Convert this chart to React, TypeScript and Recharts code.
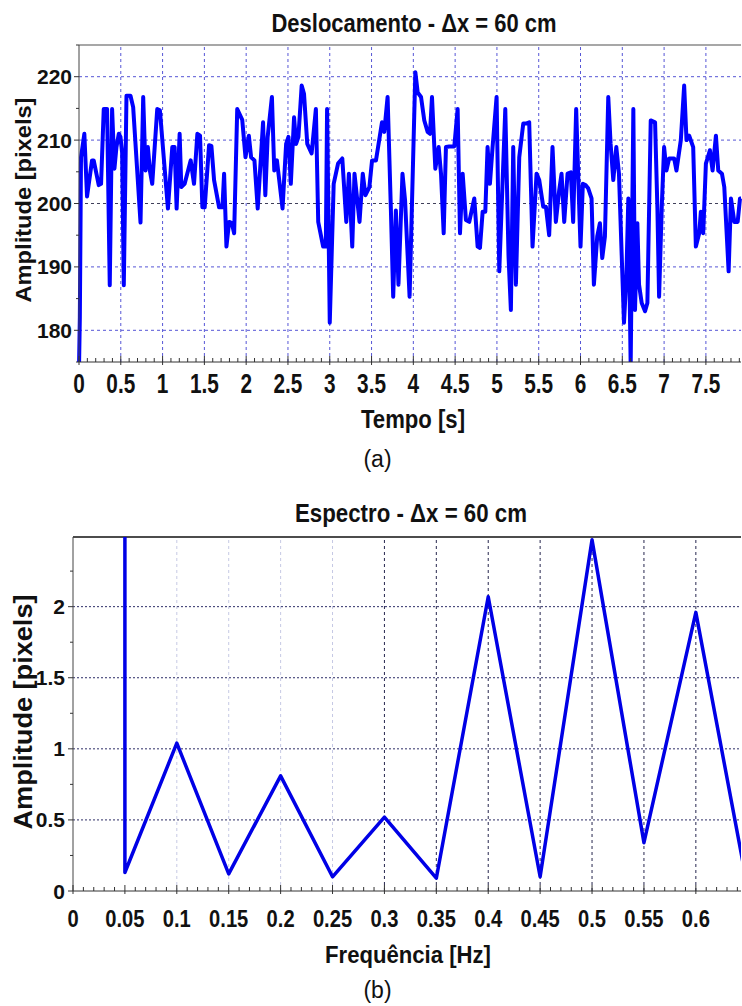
import React from 'react';
import { LineChart, Line, XAxis, YAxis, ReferenceLine } from 'recharts';

// (a) Deslocamento - tempo [s] / amplitude [pixels]
const tempoS = [
  0.0, 0.01, 0.024, 0.064, 0.096, 0.156, 0.176, 0.236, 0.264, 0.296, 0.336, 0.368, 0.396, 0.424, 0.448, 0.476,
  0.496, 0.516, 0.536, 0.568, 0.616, 0.648, 0.736, 0.768, 0.796, 0.824, 0.848, 0.876, 0.936, 0.968, 1.064, 1.116,
  1.144, 1.168, 1.204, 1.224, 1.264, 1.336, 1.376, 1.416, 1.448, 1.476, 1.504, 1.556, 1.584, 1.616, 1.676, 1.716,
  1.736, 1.764, 1.796, 1.828, 1.856, 1.893, 1.953, 1.992, 2.032, 2.059, 2.099, 2.138, 2.202, 2.229, 2.257, 2.308,
  2.336, 2.368, 2.435, 2.478, 2.506, 2.534, 2.573, 2.597, 2.625, 2.664, 2.692, 2.731, 2.783, 2.834, 2.862, 2.921,
  2.953, 2.968, 3.0, 3.047, 3.099, 3.15, 3.198, 3.229, 3.269, 3.296, 3.356, 3.395, 3.427, 3.474, 3.506, 3.553,
  3.625, 3.652, 3.692, 3.731, 3.759, 3.791, 3.822, 3.87, 3.901, 3.955, 4.024, 4.052, 4.092, 4.131, 4.171, 4.199,
  4.223, 4.263, 4.303, 4.331, 4.363, 4.39, 4.43, 4.49, 4.53, 4.558, 4.59, 4.629, 4.669, 4.729, 4.769, 4.797,
  4.829, 4.861, 4.888, 4.916, 4.948, 4.996, 5.028, 5.1, 5.139, 5.167, 5.195, 5.227, 5.267, 5.315, 5.347, 5.386,
  5.426, 5.474, 5.506, 5.554, 5.586, 5.625, 5.665, 5.705, 5.745, 5.773, 5.805, 5.845, 5.884, 5.912, 5.948, 5.988,
  6.0, 6.028, 6.06, 6.092, 6.132, 6.16, 6.2, 6.232, 6.26, 6.292, 6.332, 6.36, 6.392, 6.428, 6.46, 6.5,
  6.52, 6.548, 6.572, 6.6, 6.632, 6.652, 6.68, 6.7, 6.732, 6.772, 6.8, 6.84, 6.892, 6.92, 6.94, 6.972,
  7.0, 7.028, 7.06, 7.12, 7.148, 7.2, 7.24, 7.268, 7.3, 7.348, 7.38, 7.42, 7.44, 7.468, 7.5, 7.548,
  7.58, 7.62, 7.648, 7.692, 7.72, 7.772, 7.8, 7.84, 7.88, 7.908, 7.92,
];
const deslocPx = [
  174, 182, 207.3, 211, 201.1, 206.8, 206.8, 202.9, 203.1, 214.9, 214.9, 187.1, 214.9, 205.5, 208.9, 211,
  210.5, 208, 187.1, 217, 217, 215.2, 197, 216.8, 205.2, 208.9, 205.2, 203.1, 214.9, 214.7, 199.2, 208.9,
  208.9, 199.2, 211, 202.6, 203.1, 206.8, 203.1, 211, 210.7, 199.4, 199.4, 209.2, 209.1, 203.7, 199.4, 199.4,
  204.7, 193.2, 197.1, 196.9, 195.3, 214.9, 213.2, 207.3, 210.7, 207.3, 206.8, 199.2, 212.8, 201.3, 210.5, 216.8,
  205.2, 206.8, 199.2, 209.4, 210.5, 203.1, 213.6, 209.4, 210.5, 218.6, 217.3, 209.4, 207.9, 214.9, 197.1, 193.2,
  193.2, 214.9, 181.2, 203.1, 206.3, 207.1, 197.1, 204.7, 193.2, 204.7, 197.1, 204.7, 201.3, 202.6, 206.8, 206.8,
  212.8, 211.3, 216.8, 199.2, 185.3, 198.9, 187.2, 204.7, 200.5, 185.3, 220.7, 217.5, 216.8, 213.1, 211.3, 211,
  216.8, 205.5, 208.9, 204.7, 195.3, 208.9, 209, 209, 214.9, 195.3, 204.7, 197.4, 197.1, 200.8, 193.2, 193,
  198.7, 198.7, 208.9, 203.1, 208.9, 216.8, 189.3, 214.9, 191.6, 183.2, 208.9, 187.2, 207.3, 212.6, 212.6, 212.8,
  193.2, 204.7, 203.7, 199.5, 199.5, 195, 208.9, 197.1, 202.1, 204.7, 197.1, 204.7, 204.9, 197.1, 214.9, 197.9,
  193.2, 203.1, 202.9, 202.4, 200.8, 187.2, 194.8, 196.9, 191.4, 194.8, 216.8, 209.4, 203.7, 208.9, 204.7, 189,
  181.2, 188.2, 200.8, 174.5, 214.9, 183.2, 196.9, 187.2, 184.3, 183, 184.3, 213.1, 212.8, 199.2, 185.3, 199.5,
  208.9, 205.2, 207.1, 207.1, 205.2, 210, 218.6, 210, 210.7, 208.9, 193.2, 195.3, 198.7, 195.3, 206.3, 208.4,
  205.2, 210.7, 205.2, 204.7, 202.6, 189.3, 200.8, 197.1, 197.1, 200.8, 200.8,
];

// (b) Espectro - frequência [Hz] / amplitude [pixels]
const freqHz = [0.05, 0.05, 0.1, 0.15, 0.2, 0.25, 0.3, 0.35, 0.4, 0.45, 0.5, 0.55, 0.6, 0.65];
const espectroPx = [12, 0.13, 1.04, 0.12, 0.81, 0.1, 0.52, 0.09, 2.07, 0.1, 2.47, 0.34, 1.96, 0.02];

const tempoTicks = [0, 0.5, 1, 1.5, 2, 2.5, 3, 3.5, 4, 4.5, 5, 5.5, 6, 6.5, 7, 7.5];
const deslocTicks = [180, 190, 200, 210, 220];
const freqTicks = [0, 0.05, 0.1, 0.15, 0.2, 0.25, 0.3, 0.35, 0.4, 0.45, 0.5, 0.55, 0.6];
const espectroTicks = [0, 0.5, 1, 1.5, 2];
const freqFaint = [0.1, 0.15, 0.2, 0.25];
const freqDark = [0.3, 0.35, 0.4, 0.45, 0.5, 0.55, 0.6];

const serie1 = tempoS.map((t, i) => ({ t, v: deslocPx[i] }));
const serie2 = freqHz.map((f, i) => ({ f, v: espectroPx[i] }));

const steps = (from: number, to: number, step: number) => {
  const out: number[] = [];
  for (let v = from; v <= to + 1e-9; v += step) out.push(+v.toFixed(4));
  return out;
};
const isMajor = (list: number[], v: number) => list.some((m) => Math.abs(m - v) < 1e-6);

const SANS = "'Liberation Sans', Arial, sans-serif";

// tick labels in the source are a condensed bold face, so squeeze them horizontally
const XTick = (p: any) => {
  const { x, y, payload, majors, dy, size, squeeze } = p;
  const major = isMajor(majors, payload.value);
  return (
    <g>
      <line x1={x} x2={x} y1={y + (major ? 3 : 0)} y2={y - (major ? 6 : 4)} stroke="#333" strokeWidth={1} />
      {major && (
        <text
          transform={`translate(${x},${y + dy}) scale(${squeeze},1)`}
          textAnchor="middle"
          fontFamily={SANS}
          fontWeight="bold"
          fontSize={size}
          fill="#111"
        >
          {String(payload.value)}
        </text>
      )}
    </g>
  );
};

const YTick = (p: any) => {
  const { x, y, payload, majors, gap } = p;
  const major = isMajor(majors, payload.value);
  return (
    <g>
      <line x1={x} x2={x - (major ? 5 : 3)} y1={y} y2={y} stroke="#333" strokeWidth={1} />
      {major && (
        <text x={x - gap} y={y} dy="0.36em" textAnchor="end" fontFamily={SANS} fontWeight="bold" fontSize={21} fill="#111">
          {String(payload.value)}
        </text>
      )}
    </g>
  );
};

export default function App() {
  return (
    <div style={{ position: 'absolute', left: 0, top: 0, width: 742, height: 1006, background: '#fff' }}>
      <div style={{ position: 'absolute', left: 0, top: 0 }}>
        <LineChart width={742} height={440} data={serie1} margin={{ top: 45, right: 1, bottom: 38, left: 0 }}>
          <XAxis
            dataKey="t"
            type="number"
            domain={[0, 7.92]}
            ticks={steps(0, 7.9, 0.1)}
            interval={0}
            height={40}
            tickSize={0}
            tickMargin={0}
            axisLine={{ stroke: '#333' }}
            tick={(p: any) => <XTick {...p} majors={tempoTicks} dy={31} size={27} squeeze={0.77} />}
          />
          <YAxis
            type="number"
            domain={[175, 225]}
            allowDataOverflow
            ticks={steps(175, 225, 5)}
            interval={0}
            width={79}
            tickSize={0}
            tickMargin={0}
            axisLine={{ stroke: '#444' }}
            tick={(p: any) => <YTick {...p} majors={deslocTicks} gap={7} />}
          />
          {tempoTicks.slice(1).map((t) => (
            <ReferenceLine key={'vx' + t} x={t} stroke="#5656d6" strokeDasharray="3 3" strokeWidth={1} />
          ))}
          {deslocTicks.map((v) => (
            <ReferenceLine key={'hy' + v} y={v} stroke={v === 200 ? '#40405a' : '#5656d6'} strokeDasharray="3 3" strokeWidth={1} />
          ))}
          <ReferenceLine y={225} stroke="#8a8a8a" strokeWidth={1.5} />
          <Line
            type="linear"
            dataKey="v"
            stroke="#0000ff"
            strokeWidth={4}
            strokeLinejoin="round"
            dot={false}
            isAnimationActive={false}
          />
        </LineChart>
      </div>

      <div style={{ position: 'absolute', left: 0, top: 480 }}>
        <LineChart width={742} height={526} data={serie2} margin={{ top: 57, right: 1, bottom: 75, left: 0 }}>
          <XAxis
            dataKey="f"
            type="number"
            domain={[0, 0.6435]}
            allowDataOverflow
            ticks={steps(0, 0.64, 0.01)}
            interval={0}
            height={40}
            tickSize={0}
            tickMargin={0}
            axisLine={{ stroke: '#333' }}
            tick={(p: any) => <XTick {...p} majors={freqTicks} dy={36} size={24} squeeze={0.84} />}
          />
          <YAxis
            type="number"
            domain={[0, 2.49]}
            allowDataOverflow
            ticks={steps(0, 2.25, 0.25)}
            interval={0}
            width={73}
            tickSize={0}
            tickMargin={0}
            axisLine={{ stroke: '#444' }}
            tick={(p: any) => <YTick {...p} majors={espectroTicks} gap={8} />}
          />
          {freqFaint.map((f) => (
            <ReferenceLine key={'ff' + f} x={f} stroke="#c6c9e4" strokeDasharray="3 3" strokeWidth={1} />
          ))}
          {freqDark.map((f) => (
            <ReferenceLine key={'fd' + f} x={f} stroke="#26264e" strokeDasharray="3 3" strokeWidth={1} />
          ))}
          {espectroTicks.slice(1).map((v) => (
            <ReferenceLine key={'hs' + v} y={v} stroke="#2c2c66" strokeDasharray="2 2" strokeWidth={1} />
          ))}
          <ReferenceLine y={2.49} stroke="#111" strokeWidth={1.5} />
          <Line
            type="linear"
            dataKey="v"
            stroke="#0000e6"
            strokeWidth={3.5}
            strokeLinejoin="round"
            dot={false}
            isAnimationActive={false}
          />
        </LineChart>
      </div>

      <svg width={742} height={1006} style={{ position: 'absolute', left: 0, top: 0, pointerEvents: 'none' }}>
        <text x={414} y={32} textAnchor="middle" fontFamily={SANS} fontWeight="bold" fontSize={25} textLength={285} lengthAdjust="spacingAndGlyphs" fill="#111">
          Deslocamento - Δx = 60 cm
        </text>
        <text transform="translate(31,200) rotate(-90)" textAnchor="middle" fontFamily={SANS} fontWeight="bold" fontSize={22} textLength={205} lengthAdjust="spacingAndGlyphs" fill="#111">
          Amplitude [pixels]
        </text>
        <text x={413} y={428} textAnchor="middle" fontFamily={SANS} fontWeight="bold" fontSize={25} textLength={104} lengthAdjust="spacingAndGlyphs" fill="#111">
          Tempo [s]
        </text>
        <text x={377.5} y={467} textAnchor="middle" fontFamily={SANS} fontSize={23} fill="#111">
          (a)
        </text>

        <text x={411} y={522} textAnchor="middle" fontFamily={SANS} fontWeight="bold" fontSize={26} textLength={232} lengthAdjust="spacingAndGlyphs" fill="#111">
          Espectro - Δx = 60 cm
        </text>
        <text transform="translate(32,712) rotate(-90)" textAnchor="middle" fontFamily={SANS} fontWeight="bold" fontSize={25} textLength={235} lengthAdjust="spacingAndGlyphs" fill="#111">
          Amplitude [pixels]
        </text>
        <text x={408} y={963} textAnchor="middle" fontFamily={SANS} fontWeight="bold" fontSize={23} textLength={166} lengthAdjust="spacingAndGlyphs" fill="#111">
          Frequência [Hz]
        </text>
        <text x={377.5} y={998} textAnchor="middle" fontFamily={SANS} fontSize={23} fill="#111">
          (b)
        </text>
      </svg>
    </div>
  );
}
